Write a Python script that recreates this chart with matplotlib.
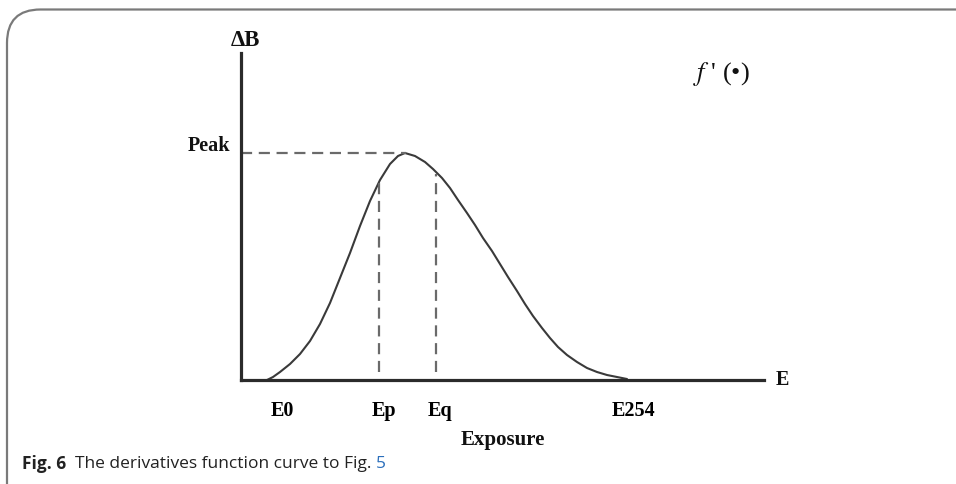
import matplotlib
matplotlib.use("Agg")
import matplotlib.pyplot as plt
from matplotlib.patches import FancyBboxPatch

# derivative curve (x: exposure, y: delta B), arbitrary units
exposure = [26, 32, 39, 49, 59, 69, 79, 89, 99, 109, 119, 129, 139, 149, 157,
            164, 174, 184, 192, 201, 209, 217, 226, 234, 242, 251, 259, 267,
            276, 284, 292, 301, 309, 317, 326, 336, 346, 356, 366, 376, 386]
delta_b = [0, 3, 8, 16, 26, 39, 56, 77, 102, 127, 154, 179, 200, 216, 224,
           227, 224, 218, 211, 202, 192, 180, 167, 155, 142, 129, 116, 103,
           89, 76, 64, 52, 42, 33, 25, 18, 12, 8, 5, 3, 1]

peak_x, peak_y = 165, 227
ep_x, ep_y = 138, 199
eq_x, eq_y = 195, 206
dash_floor = 8

tick_pos = [41, 143, 199, 392]
tick_labels = ["E0", "Ep", "Eq", "E254"]

W, H = 956, 484
plt.rcParams["mathtext.fontset"] = "stix"
fig = plt.figure(figsize=(W / 100, H / 100), dpi=100)

# rounded frame around the figure
frame = FancyBboxPatch((7 / W, -0.2), 1.2, (H - 9.5) / H + 0.2,
                       boxstyle="round,pad=0,rounding_size=0.035",
                       transform=fig.transFigure, fill=False,
                       edgecolor="#7a7a7a", linewidth=1.6, mutation_aspect=W / H)
fig.patches.append(frame)

ax = fig.add_axes([241 / W, (H - 380) / H, 523 / W, 327 / H])
ax.set_xlim(0, 523)
ax.set_ylim(0, 327)
for s in ["top", "right"]:
    ax.spines[s].set_visible(False)
for s in ["left", "bottom"]:
    ax.spines[s].set_linewidth(2.3)
    ax.spines[s].set_color("#2b2b2b")

serif = dict(family="Liberation Serif", weight="bold", color="#111111")

ax.plot(exposure, delta_b, color="#3a3a3a", lw=1.5, clip_on=False,
        solid_joinstyle="round", solid_capstyle="round")

dash = dict(color="#6a6a6a", lw=1.6, ls=(0, (5, 3)))
ax.plot([0, peak_x], [peak_y, peak_y], **dash)
ax.plot([ep_x, ep_x], [dash_floor, ep_y], **dash)
ax.plot([eq_x, eq_x], [dash_floor, eq_y], **dash)

ax.set_xticks(tick_pos, tick_labels)
ax.set_yticks([])
ax.tick_params(length=0, labelsize=14.5)
ax.tick_params(axis="x", pad=15)
for lab in ax.get_xticklabels():
    lab.set_fontfamily("Liberation Serif")
    lab.set_fontweight("bold")

ax.annotate("Peak", (0, peak_y), xytext=(-8, 5), textcoords="offset points",
            ha="right", va="center", fontsize=14.5, **serif)

ax.set_xlabel("Exposure", fontsize=15, va="center", **serif)
ax.xaxis.set_label_coords(0.5, -60 / 327)

ax.text(535, 0, "E", fontsize=14.5, ha="left", va="center", **serif)
ax.text(4, 340, "ΔB", fontsize=16.5, ha="center", va="center", **serif)
ax.text(480, 306, "$f$ ' (•)", fontsize=19, ha="center", va="center",
        family="Liberation Serif", color="#111111")

# caption, pieces placed one after another
cap_y = 1 - 464 / H
cap = dict(fontsize=12.5, family="Open Sans", va="center", color="#222222")
t1 = fig.text(22 / W, cap_y, "Fig. 6", weight="bold", **cap)
r = fig.canvas.get_renderer()
x = t1.get_window_extent(r).x1 + 9
t2 = fig.text(x / W, cap_y, "The derivatives function curve to Fig.", **cap)
x = t2.get_window_extent(r).x1 + 4
cap["color"] = "#2a6ebb"
fig.text(x / W, cap_y, "5", **cap)

fig.savefig("out.png", dpi=100)
